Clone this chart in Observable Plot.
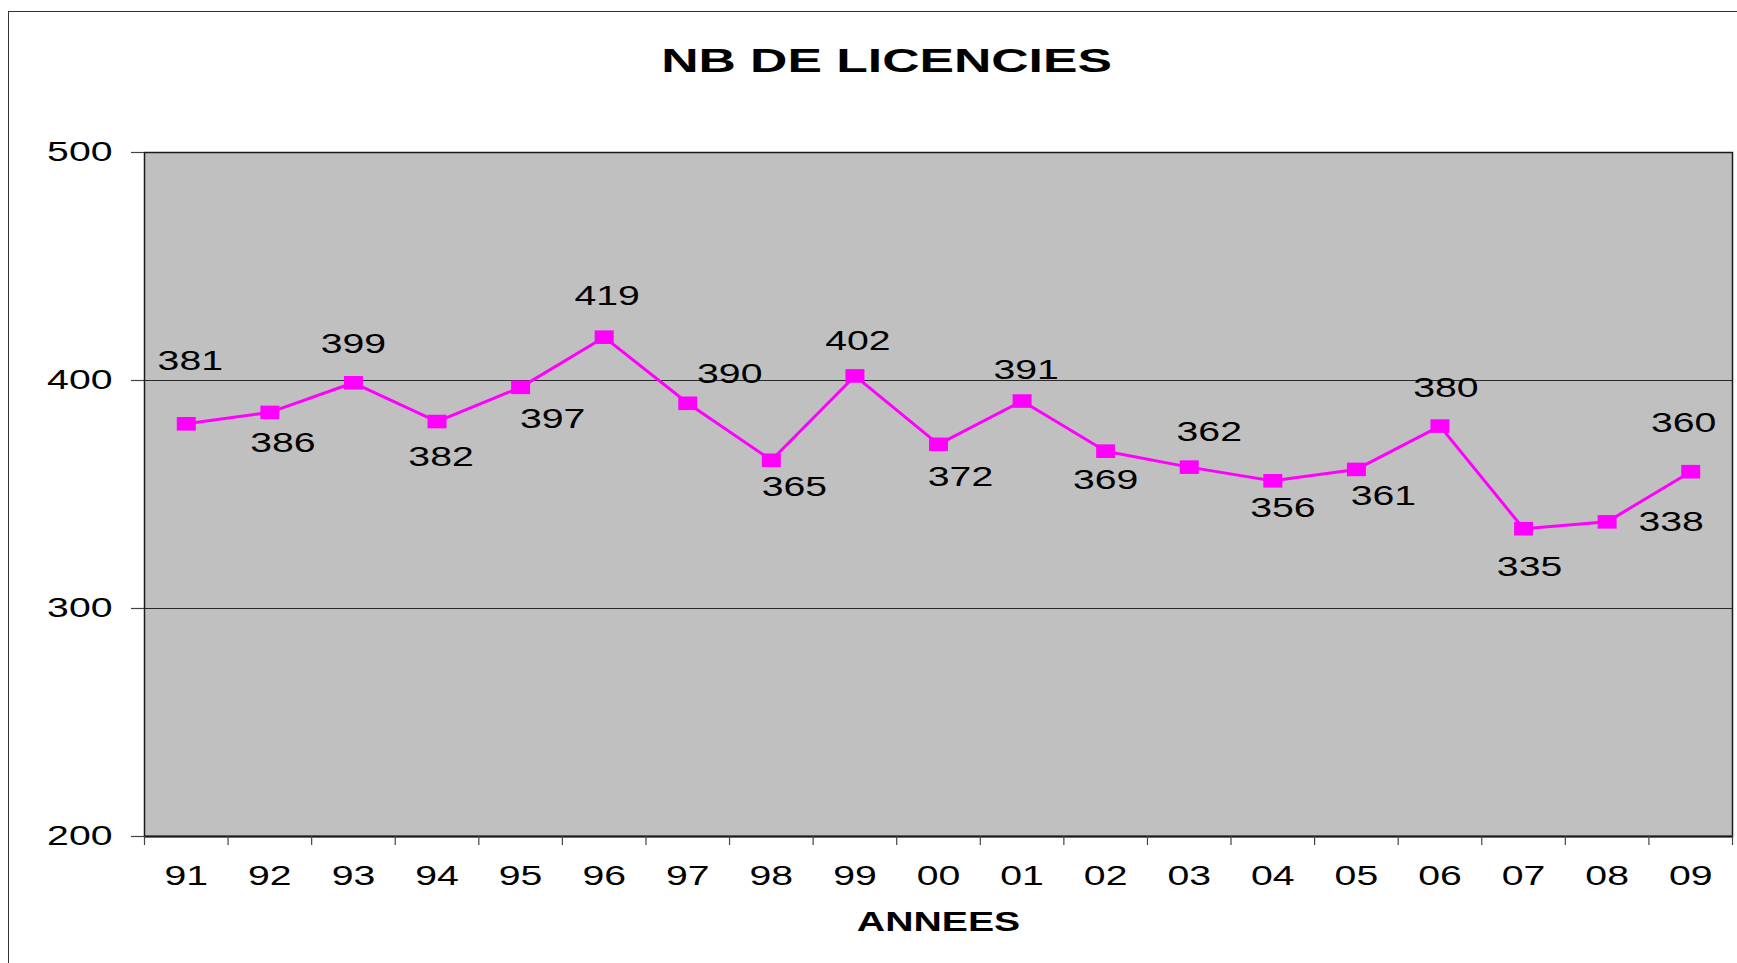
<!DOCTYPE html>
<html>
<head>
<meta charset="utf-8">
<script src="https://cdn.jsdelivr.net/npm/d3@7"></script>
<script src="https://cdn.jsdelivr.net/npm/@observablehq/plot@0.6"></script>
<style>
  html, body { margin: 0; padding: 0; background: #fff; }
  body { width: 1737px; height: 963px; overflow: hidden; position: relative; }
  #border { position: absolute; left: 8px; top: 11px; right: -20px; bottom: -20px;
            border-left: 1.5px solid #333; border-top: 1.5px solid #333; }
  #chart { position: absolute; left: 0; top: 0; }
</style>
</head>
<body>
<div id="border"></div>
<div id="chart"></div>
<script>
const title = "NB DE LICENCIES";
const xTitle = "ANNEES";
const years = ["91","92","93","94","95","96","97","98","99","00","01","02","03","04","05","06","07","08","09"];
const licences = [381,386,399,382,397,419,390,365,402,372,391,369,362,356,361,380,335,338,360];
const yTicks = [200, 300, 400, 500];
const gridValues = [300, 400];
// label offsets (pixels) relative to each point
const labelDx = [4,13,0,4,32,3,42,23,3,22,4,0,20,10,27,6,6,64,-7];
const labelDy = [-63,31,-39,35,32,-41,-29,27,-35,33,-31,29,-35,27,27,-38,38,0,-49];

const rows = years.map((y, i) => ({i, year: y, v: licences[i]}));
const font = "Liberation Sans, Arial, sans-serif";

const wideSquare = {
  draw(context) {
    context.moveTo(-9.5, -6.8);
    context.lineTo(9.5, -6.8);
    context.lineTo(9.5, 6.8);
    context.lineTo(-9.5, 6.8);
    context.closePath();
  }
};

const labelMarks = rows.map((d, k) =>
  Plot.text([d], {x: "i", y: "v", text: (r) => String(r.v), dx: labelDx[k], dy: labelDy[k],
                  fontSize: 28, fill: "#000"})
);

const chart = Plot.plot({
  width: 1737,
  height: 963,
  marginLeft: 144,
  marginRight: 5,
  marginTop: 152,
  marginBottom: 127,
  style: {fontFamily: font, background: "transparent", color: "#000", overflow: "visible"},
  x: {type: "linear", domain: [-0.5, years.length - 0.5]},
  y: {domain: [200, 500]},
  marks: [
    Plot.frame({fill: "#c0c0c0", stroke: "none"}),
    Plot.ruleY(gridValues, {stroke: "#2a2a2a", strokeWidth: 1.2}),
    Plot.frame({stroke: "#1a1a1a", strokeWidth: 1.5, fill: "none"}),
    Plot.ruleY([200], {stroke: "#1a1a1a", strokeWidth: 2}),
    Plot.axisY({ticks: yTicks, tickSize: 13, tickPadding: 19, fontSize: 28, label: null,
                stroke: "#444", strokeWidth: 1.2, tickFormat: d3.format("d")}),
    Plot.axisX({ticks: d3.range(years.length + 1).map(k => k - 0.5), tickSize: 9, tickFormat: () => "",
                label: null, stroke: "#444", strokeWidth: 1.2}),
    Plot.axisX({ticks: d3.range(years.length), tickSize: 0, tickPadding: 29, fontSize: 28,
                tickFormat: (k) => years[k], label: null}),
    Plot.line(rows, {x: "i", y: "v", stroke: "#ff00ff", strokeWidth: 3}),
    Plot.dot(rows, {x: "i", y: "v", symbol: wideSquare, fill: "#ff00ff", stroke: "none"}),
    ...labelMarks,
    Plot.text([title], {frameAnchor: "top", lineAnchor: "middle", dy: -91, dx: -52, fontSize: 34,
                        fontWeight: "bold", fill: "#000"}),
    Plot.text([xTitle], {frameAnchor: "bottom", lineAnchor: "middle", dy: 86, fontSize: 28,
                         fontWeight: "bold", fill: "#000"})
  ]
});

// Horizontally stretched lettering, as in the original chart (x only; y untouched)
for (const t of chart.querySelectorAll("text")) {
  const s = t.textContent === title ? 1.52 : 1.4;
  const xa = t.getAttribute("x");
  const x = xa != null && isFinite(+xa) ? +xa : 0;
  if (xa != null && isFinite(+xa)) t.removeAttribute("x");
  const tr = t.getAttribute("transform") || "";
  t.setAttribute("transform", `${tr} translate(${x},0) scale(${s},1)`);
}

document.getElementById("chart").appendChild(chart);
</script>
</body>
</html>
